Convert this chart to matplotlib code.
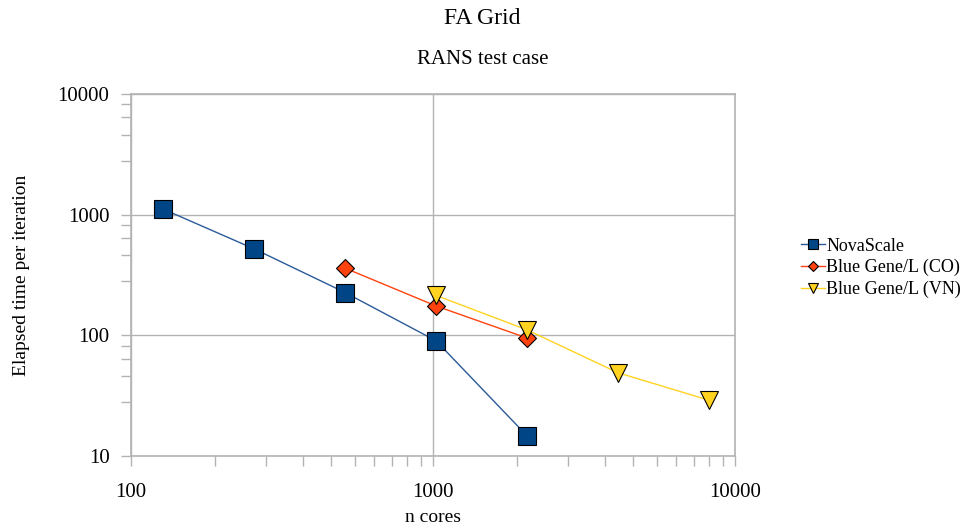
import numpy as np
import matplotlib
matplotlib.use('Agg')
import matplotlib.pyplot as plt
from matplotlib.ticker import FixedLocator, NullFormatter

plt.rcParams['font.family'] = ['Liberation Serif', 'DejaVu Serif']

# data
nova_cores = [128, 256, 512, 1024, 2048]
nova_time = [1110, 520, 226, 90, 14.7]

co_cores = [512, 1024, 2048]
co_time = [360, 175, 95]

vn_cores = [1024, 2048, 4096, 8192]
vn_time = [214, 111, 49, 29]

x_ticks = [100, 1000, 10000]
y_ticks = [10, 100, 1000, 10000]

grey = '#b3b3b3'

fig = plt.figure(figsize=(9.65, 5.3), dpi=100)
ax = fig.add_axes([131 / 965, 1 - 456 / 530, (735 - 131) / 965, (456 - 94) / 530])

ax.plot(nova_cores, nova_time, color='#2a5a98', lw=1, marker='s', ms=13,
        mfc='#004586', mec='black', mew=0.8, label='NovaScale')
ax.plot(co_cores, co_time, color='#ff420e', lw=1, marker='D', ms=9.5,
        mfc='#ff420e', mec='black', mew=0.8, label='Blue Gene/L (CO)')
ax.plot(vn_cores, vn_time, color='#ffd320', lw=1, marker='v', ms=13.5,
        mfc='#ffd320', mec='black', mew=0.8, label='Blue Gene/L (VN)')

ax.set_xscale('log')
ax.set_yscale('log')
ax.set_xlim(100, 10000)
ax.set_ylim(10, 10000)

# minor ticks: linear subdivisions of each decade (10 on x, 5 on y)
x_minor = [d * (1 + 0.9 * k) for d in [100, 1000] for k in range(1, 10)]
y_minor = [d * (1 + 1.8 * k) for d in [10, 100, 1000] for k in range(1, 5)]
ax.xaxis.set_major_locator(FixedLocator(x_ticks))
ax.yaxis.set_major_locator(FixedLocator(y_ticks))
ax.xaxis.set_minor_locator(FixedLocator(x_minor))
ax.yaxis.set_minor_locator(FixedLocator(y_minor))
ax.xaxis.set_minor_formatter(NullFormatter())
ax.yaxis.set_minor_formatter(NullFormatter())
ax.set_xticklabels([str(v) for v in x_ticks])
ax.set_yticklabels([str(v) for v in y_ticks])

ax.tick_params(which='both', direction='out', length=7.5, width=1, color=grey,
               labelsize=15)
ax.tick_params(axis='x', which='major', pad=12)
ax.tick_params(axis='y', which='major', pad=8)

ax.grid(True, which='major', color=grey, lw=1)
ax.set_axisbelow(True)
for s in ax.spines.values():
    s.set_color(grey)
    s.set_linewidth(1.2)

ax.set_xlabel('n cores', fontsize=14, labelpad=5)
ax.set_ylabel('Elapsed time per iteration', fontsize=14, labelpad=20)

fig.text(0.5, 1 - 19 / 530, 'FA Grid', fontsize=17, ha='center', va='center')
fig.text(0.5, 1 - 60 / 530, 'RANS test case', fontsize=15, ha='center', va='center')

fig.legend(loc='center left', bbox_to_anchor=(792 / 965, 1 - 268 / 530),
           frameon=False, fontsize=13, handlelength=1.3, handletextpad=0.1,
           labelspacing=0.25, markerscale=0.55, borderpad=0)

fig.savefig('out.png', dpi=100)
